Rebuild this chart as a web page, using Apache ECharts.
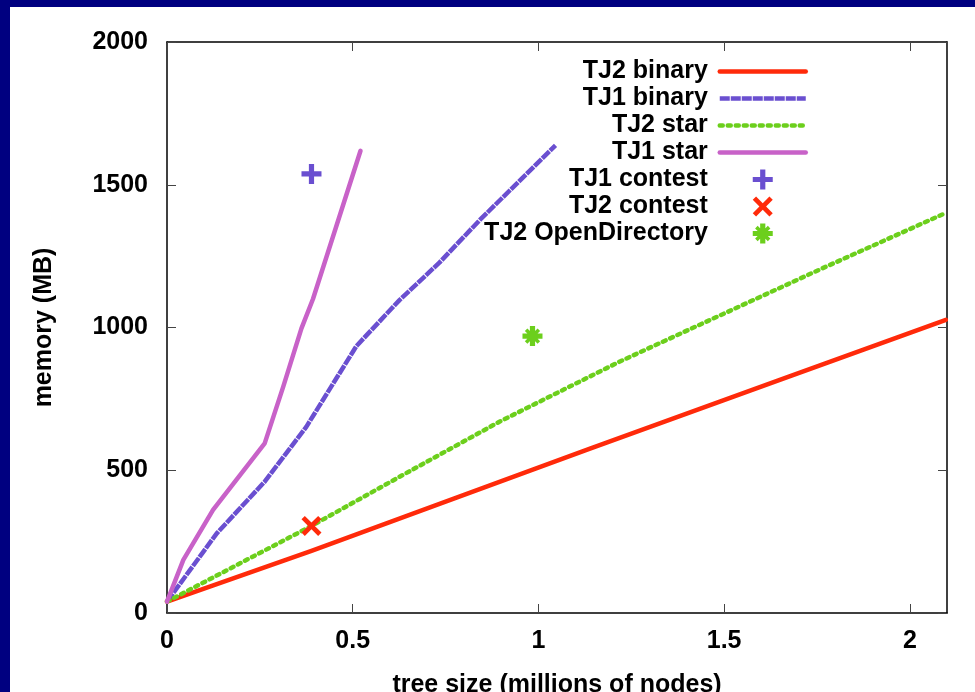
<!DOCTYPE html>
<html>
<head>
<meta charset="utf-8">
<script src="https://cdn.jsdelivr.net/npm/echarts@6/dist/echarts.min.js"></script>
<style>
  html, body { margin: 0; padding: 0; background: #fff; }
</style>
</head>
<body>
<div id="chart" style="width: 975px; height: 692px"></div>
<script>
// values: [tree size (millions), memory (MB)]
const tj2Binary = [[0, 40], [0.389, 218], [1.137, 575], [1.648, 816], [2.097, 1027]];
const tj1Binary = [[0, 40], [0.134, 279], [0.263, 460], [0.375, 652], [0.51, 935], [0.626, 1096], [0.734, 1228], [0.841, 1375], [1.046, 1638]];
const tj2Star = [[0, 40], [0.389, 305], [0.626, 477], [0.895, 670], [1.218, 880], [1.433, 1009], [1.54, 1073], [1.764, 1207], [2.091, 1398]];
const tj1Star = [[0, 40], [0.044, 186], [0.124, 361], [0.263, 594], [0.313, 793], [0.362, 997], [0.393, 1100], [0.521, 1619]];
const tj1Contest = [[0.389, 1538]];
const tj2Contest = [[0.389, 305]];
const tj2OpenDir = [[0.984, 970]];

const xTicks = [0, 0.5, 1, 1.5, 2];
const yTicks = [0, 500, 1000, 1500, 2000];
const xMax = 2.1;

const FONT = "'Liberation Sans', Arial, sans-serif";

// gnuplot-like point shapes (filled outlines)
const plusPath = "M-1.3,-5L1.3,-5L1.3,-1.3L5,-1.3L5,1.3L1.3,1.3L1.3,5L-1.3,5L-1.3,1.3L-5,1.3L-5,-1.3L-1.3,-1.3Z";
const crossPath = "M3.6,-5.4L5.4,-3.6L1.8,0L5.4,3.6L3.6,5.4L0,1.8L-3.6,5.4L-5.4,3.6L-1.8,0L-5.4,-3.6L-3.6,-5.4L0,-1.8Z";
const starCross = "M2.55,-3.82L3.82,-2.55L1.27,0L3.82,2.55L2.55,3.82L0,1.27L-2.55,3.82L-3.82,2.55L-1.27,0L-3.82,-2.55L-2.55,-3.82L0,-1.27Z";

const chart = echarts.init(document.getElementById("chart"));

const tick = { show: true, inside: true, length: 9, lineStyle: { color: "#444", width: 1 } };
const frame = { show: true, onZero: false, lineStyle: { color: "#000", width: 1.5 } };
const labelFont = { fontFamily: FONT, fontSize: 25, fontWeight: "bold", color: "#000" };

function lineSeries(name, data, color, type, cap) {
  return {
    name: name,
    type: "line",
    data: data,
    showSymbol: false,
    symbol: "none",
    lineStyle: { color: color, width: 4.5, type: type, cap: cap || "butt", join: "round" },
    itemStyle: { color: color },
    z: 3,
  };
}

function pointSeries(name, data, color, symbol) {
  return {
    name: name,
    type: "scatter",
    data: data,
    symbol: "path://" + symbol,
    symbolSize: 20,
    itemStyle: { color: color, opacity: 1 },
    z: 4,
  };
}

const hideDot = { opacity: 0 };

const option = {
  animation: false,
  backgroundColor: "#fff",
  graphic: [
    { type: "rect", left: 0, top: 0, shape: { width: 975, height: 7 }, style: { fill: "#000080" } },
    { type: "rect", left: 0, top: 0, shape: { width: 10, height: 692 }, style: { fill: "#000080" } },
  ],
  grid: { left: 167, top: 42, right: 28, bottom: 79, containLabel: false, outerBoundsMode: "none" },
  legend: {
    orient: "vertical",
    align: "right",
    right: 162,
    top: 53,
    itemWidth: 86,
    itemHeight: 20,
    itemGap: 0,
    lineStyle: { width: 4.5 },
    textStyle: { fontFamily: FONT, fontSize: 25, fontWeight: "bold", color: "#000", lineHeight: 27 },
    formatter: function (name) { return name + " "; },
    data: [
      { name: "TJ2 binary", itemStyle: hideDot },
      { name: "TJ1 binary", itemStyle: hideDot },
      { name: "TJ2 star", itemStyle: hideDot },
      { name: "TJ1 star", itemStyle: hideDot },
      "TJ1 contest",
      "TJ2 contest",
      "TJ2 OpenDirectory",
    ],
  },
  xAxis: [
    {
      type: "value",
      min: xTicks[0],
      max: xMax,
      interval: xTicks[1] - xTicks[0],
      name: "tree size (millions of nodes)",
      nameLocation: "middle",
      nameGap: 60,
      nameTextStyle: labelFont,
      axisLine: frame,
      axisTick: tick,
      splitLine: { show: false },
      axisLabel: Object.assign({ margin: 16, showMaxLabel: false }, labelFont),
    },
    {
      type: "value",
      position: "top",
      min: xTicks[0],
      max: xMax,
      interval: xTicks[1] - xTicks[0],
      axisLine: frame,
      axisTick: tick,
      splitLine: { show: false },
      axisLabel: { show: false },
    },
  ],
  yAxis: [
    {
      type: "value",
      min: yTicks[0],
      max: yTicks[yTicks.length - 1],
      interval: yTicks[1] - yTicks[0],
      name: "memory (MB)",
      nameLocation: "middle",
      nameGap: 110,
      nameTextStyle: labelFont,
      axisLine: frame,
      axisTick: tick,
      splitLine: { show: false },
      axisLabel: Object.assign({ margin: 19, formatter: function (v) { return String(v); } }, labelFont),
    },
    {
      type: "value",
      position: "right",
      min: yTicks[0],
      max: yTicks[yTicks.length - 1],
      interval: yTicks[1] - yTicks[0],
      axisLine: frame,
      axisTick: tick,
      splitLine: { show: false },
      axisLabel: { show: false },
    },
  ],
  series: [
    lineSeries("TJ2 binary", tj2Binary, "#ff2a0a", "solid", "round"),
    lineSeries("TJ1 binary", tj1Binary, "#6a4fd0", [10, 1]),
    lineSeries("TJ2 star", tj2Star, "#6ccf1c", [3, 5], "round"),
    lineSeries("TJ1 star", tj1Star, "#c862c8", "solid", "round"),
    pointSeries("TJ1 contest", tj1Contest, "#6a4fd0", plusPath),
    pointSeries("TJ2 contest", tj2Contest, "#ff2a0a", crossPath),
    pointSeries("TJ2 OpenDirectory", tj2OpenDir, "#6ccf1c", plusPath + starCross),
  ],
};

chart.setOption(option);
window.addEventListener("resize", function () {
  chart.resize();
});
</script>
</body>
</html>
